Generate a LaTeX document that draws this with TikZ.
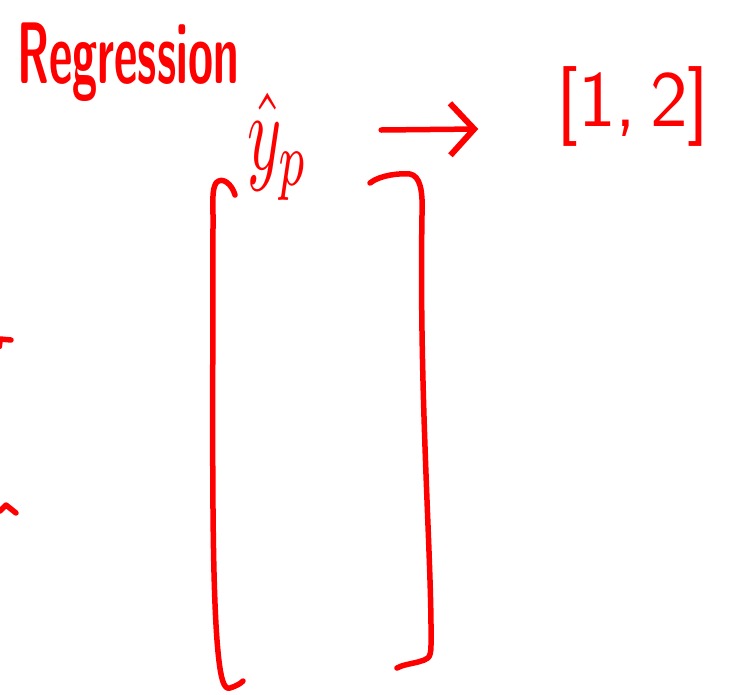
\documentclass[tikz,border=0pt]{standalone}
\usetikzlibrary{arrows.meta}
\definecolor{ink}{RGB}{255,0,0}
\begin{document}
\begin{tikzpicture}[x=1pt,y=-1pt,
  pen/.style={draw=ink,line width=5.5pt,line cap=round,line join=round},
  txt/.style={text=ink,inner sep=0pt},
  arr/.style={pen,-{Straight Barb[length=24pt,width=52pt,line width=6pt]}}]
\useasboundingbox[fill=white] (0,0) rectangle (730,694);
% texts
\node[txt,anchor=center] (title) at (128,62)
  {\scalebox{0.6}[1.15]{\fontsize{76}{76}\selectfont\sffamily\bfseries Regression}};
\node[txt,anchor=center] (yp) at (278,147)
  {\scalebox{6.5}[11]{$\hat{y}_p$}};
\node[txt,anchor=center] (vec) at (633,106)
  {\fontsize{80}{80}\selectfont\sffamily [1,\,2]};
% arrow
\draw[arr] ([xshift=72pt,yshift=17pt]yp.east) -- ([xshift=-78pt,yshift=-23pt]vec.west);
% big brackets
\draw[pen] (235,195) .. controls (232,184) and (222,176) .. (216,183)
  .. controls (212,190) and (213,200) .. (213,215)
  .. controls (213,400) and (211,560) .. (217,640)
  .. controls (220,680) and (224,690) .. (230,688)
  .. controls (236,686) and (240,684) .. (243,681);
\draw[pen] (370,183) .. controls (380,175) and (400,173) .. (410,174)
  .. controls (420,176) and (423,190) .. (422,215)
  .. controls (419,400) and (432,560) .. (431,645)
  .. controls (431,660) and (427,659) .. (418,662)
  .. controls (410,664) and (402,665) .. (397,668);
% marks at the left edge
\draw[pen] (0,339) -- (11,340);
\draw[pen,line width=4pt] (1,340) -- (0,347);
\draw[pen] (0,511) -- (6,505) -- (16,513);
\end{tikzpicture}
\end{document}
